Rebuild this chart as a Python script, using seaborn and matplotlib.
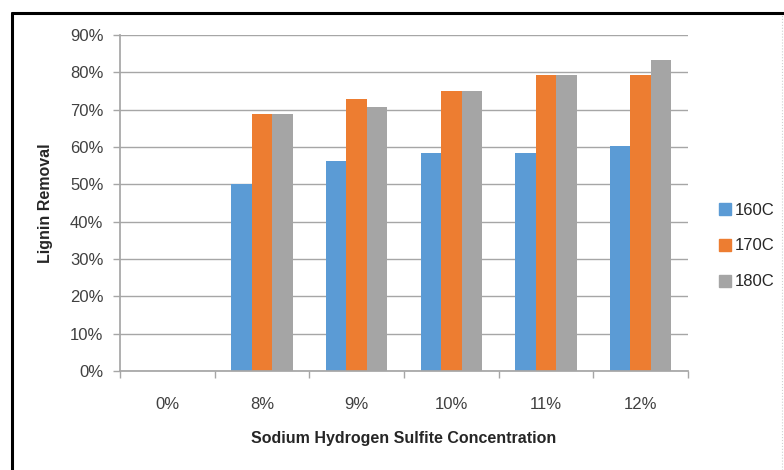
import matplotlib
matplotlib.use("Agg")
import matplotlib.pyplot as plt
import seaborn as sns
import pandas as pd
from matplotlib.lines import Line2D
from matplotlib.ticker import PercentFormatter

categories = ["0%", "8%", "9%", "10%", "11%", "12%"]
series_names = ["160C", "170C", "180C"]
vals_160 = [0, 50.1, 56.3, 58.3, 58.3, 60.4]
vals_170 = [0, 68.8, 72.9, 74.9, 79.2, 79.2]
vals_180 = [0, 68.8, 70.8, 74.9, 79.2, 83.3]
colors = ["#5B9BD5", "#ED7D31", "#A5A5A5"]

rows = []
for name, vals in zip(series_names, [vals_160, vals_170, vals_180]):
    for c, v in zip(categories, vals):
        rows.append({"conc": c, "temp": name, "val": v})
df = pd.DataFrame(rows)

sns.set_theme(style="white")
fam = ["Liberation Sans", "DejaVu Sans"]
plt.rcParams["font.family"] = fam

fig = plt.figure(figsize=(7.84, 4.70), dpi=100)
fig.patch.set_facecolor("white")
ax = fig.add_axes([120/784, 1-371/470, (688-120)/784, (371-35)/470])

sns.barplot(data=df, x="conc", y="val", hue="temp", order=categories,
            hue_order=series_names, palette=colors, saturation=1,
            width=0.65, ax=ax, legend=False, errorbar=None, linewidth=0)

ax.set_ylim(0, 90)
ax.set_xlim(-0.5, len(categories)-0.5)
ax.set_yticks(range(0, 91, 10))
ax.yaxis.set_major_formatter(PercentFormatter(decimals=0))
ax.grid(axis="y", color="#A6A6A6", linewidth=1.0)
ax.set_axisbelow(True)
for s in ["top", "right"]:
    ax.spines[s].set_visible(False)
ax.spines["left"].set_color("#A6A6A6")
ax.spines["bottom"].set_color("#A6A6A6")
ax.tick_params(axis="y", length=5, color="#A6A6A6", width=1, left=True,
               labelsize=12, labelcolor="#404040", pad=7)
# x ticks at category boundaries
ax.set_xticks([i - 0.5 for i in range(len(categories)+1)], minor=False)
ax.set_xticklabels([""]*(len(categories)+1))
ax.tick_params(axis="x", length=5, color="#A6A6A6", width=1, bottom=True)
for i, c in enumerate(categories):
    ax.text(i, -9.0, c, ha="center", va="center", fontsize=12,
            color="#404040", family=fam)

ax.set_ylabel("Lignin Removal", fontsize=11.5, fontweight="bold",
              labelpad=12, color="#262626")
ax.set_xlabel("Sodium Hydrogen Sulfite Concentration", fontsize=11.5,
              fontweight="bold", labelpad=35, color="#262626")

handles = [Line2D([0], [0], marker="s", linestyle="none", markersize=8,
                  markerfacecolor=col, markeredgecolor=col) for col in colors]
fig.legend(handles, series_names, loc="center left",
           bbox_to_anchor=(700/784, 1-246/470), frameon=False,
           fontsize=12, handletextpad=0.0, labelspacing=1.25,
           handlelength=1.2, labelcolor="#262626")

# outer frame (clipped on right and bottom)
fig.add_artist(Line2D([12/784, 1.0], [1-13/470, 1-13/470], color="black",
                      linewidth=2.2, transform=fig.transFigure))
fig.add_artist(Line2D([12/784, 12/784], [0.0, 1-13/470], color="black",
                      linewidth=2.2, transform=fig.transFigure))
fig.add_artist(Line2D([782/784, 782/784], [0.0, 1-14/470], color="#D0D0D0",
                      linewidth=0.8, linestyle=":", transform=fig.transFigure))

fig.savefig("out.png", dpi=100, facecolor="white")
